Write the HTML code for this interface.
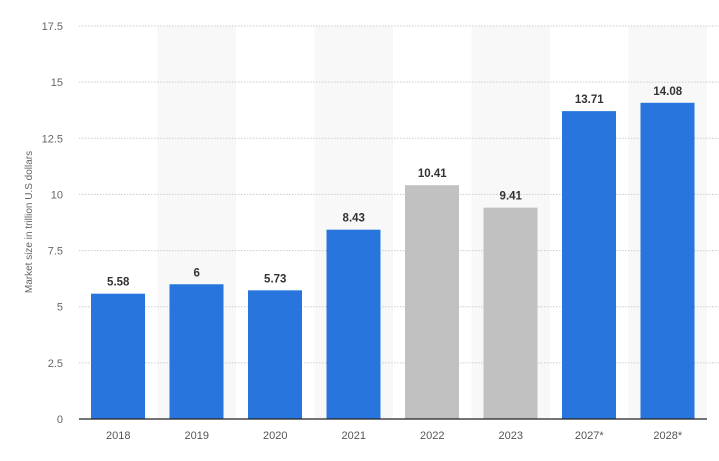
<!DOCTYPE html>
<html><head><meta charset="utf-8"><style>
body{margin:0;background:#fff;font-family:"Liberation Sans",sans-serif}
svg text{font-family:"Liberation Sans",sans-serif}
</style></head><body>
<svg width="719" height="456" id="c"></svg>
<script>
const categories=["2018","2019","2020","2021","2022","2023","2027*","2028*"];
const values=[5.58,6,5.73,8.43,10.41,9.41,13.71,14.08];
const isGray=[false,false,false,false,true,true,false,false];
const ticks=[0,2.5,5,7.5,10,12.5,15,17.5];
const tickLabels=["0","2.5","5","7.5","10","12.5","15","17.5"];
const NS="http://www.w3.org/2000/svg",svg=document.getElementById("c");
const L=79,R=707,T=26,B=419,MAX=17.5;
const y=v=>B-(v/MAX)*(B-T);
const bw=(R-L)/categories.length;
const x=i=>L+i*bw;
function mk(t,a,p){const e=document.createElementNS(NS,t);for(const k in a)e.setAttribute(k,a[k]);(p||svg).appendChild(e);return e;}
categories.forEach((c,i)=>{if(i%2===1){const s=mk("rect",{x:x(i),y:T,width:bw,height:B-T,fill:"#f8f8f8"});

}});
ticks.forEach((t,i)=>{
 if(t>0){const g=mk("line",{x1:L,x2:R+12,y1:y(t),y2:y(t),stroke:"#ccc","stroke-dasharray":"1.5,1.5"});
 
 }
 const tx=mk("text",{x:63,y:y(t)+4,"text-anchor":"end","font-size":"11",fill:"#666"});tx.textContent=tickLabels[i];
 
 
});
categories.forEach((c,i)=>{
 const b=mk("rect",{x:x(i)+12,y:y(values[i]),width:bw-24.5,height:B-y(values[i]),fill:isGray[i]?"#c1c1c1":"#2876dd"});
 
 
 const v=mk("text",{x:x(i)+bw/2,y:y(values[i])-8,"text-anchor":"middle","font-size":"11.5","font-weight":"bold",fill:"#333"});v.textContent=String(values[i]);
 
 
 const l=mk("text",{x:x(i)+bw/2,y:439,"text-anchor":"middle","font-size":"11",fill:"#555"});l.textContent=c;
 
 
});
const ax=mk("line",{x1:L,x2:R,y1:B,y2:B,stroke:"#222","stroke-width":"1.2"});


const yt=mk("text",{x:0,y:0,transform:"translate(32,222) rotate(-90)","text-anchor":"middle","font-size":"10",fill:"#666"});
yt.textContent="Market size in trillion U.S dollars";


</script>
</body></html>
